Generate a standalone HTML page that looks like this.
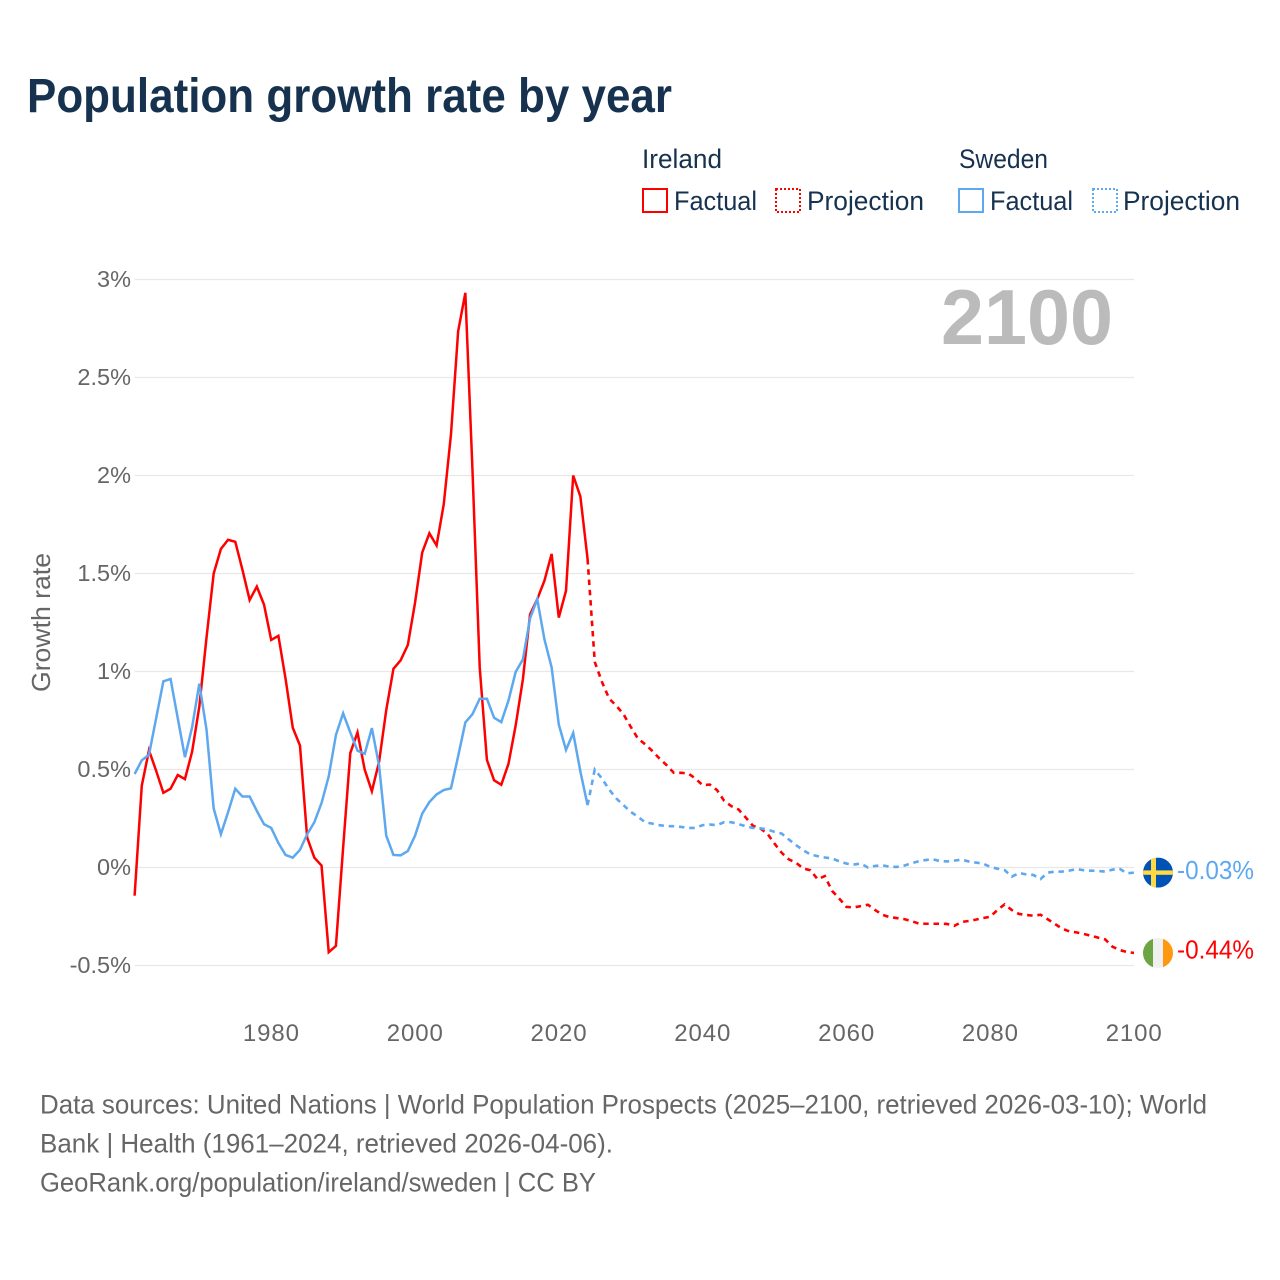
<!DOCTYPE html>
<html lang="en">
<head>
<meta charset="utf-8">
<title>Population growth rate by year</title>
<style>
html,body{margin:0;padding:0;background:#fff;width:1280px;height:1280px;overflow:hidden}
svg{display:block}
text{font-family:"Liberation Sans",sans-serif}
</style>
</head>
<body>
<svg id="chart" xmlns="http://www.w3.org/2000/svg" width="1280" height="1280" viewBox="0 0 1280 1280">
  <defs>
    <clipPath id="flag-clip-se"><circle id="clip-se" cx="1158" cy="873" r="15"/></clipPath>
    <clipPath id="flag-clip-ie"><circle id="clip-ie" cx="1158" cy="954" r="15"/></clipPath>
  </defs>
  <rect x="0" y="0" width="1280" height="1280" fill="#fff"/>
  <text x="27" y="112" font-size="48" font-weight="700" fill="#17324f" textLength="645" lengthAdjust="spacingAndGlyphs">Population growth rate by year</text>

  <g font-size="27" fill="#17324f">
    <text x="642" y="168" textLength="80" lengthAdjust="spacingAndGlyphs">Ireland</text>
    <text x="959" y="168" textLength="89" lengthAdjust="spacingAndGlyphs">Sweden</text>
    <rect x="643" y="189" width="24" height="23" fill="none" stroke="#ff0000" stroke-width="2"/>
    <text x="674" y="210" textLength="83" lengthAdjust="spacingAndGlyphs">Factual</text>
    <rect x="776" y="189" width="24" height="23" fill="none" stroke="#ff0000" stroke-width="2" stroke-dasharray="2 2"/>
    <text x="807" y="210" textLength="117" lengthAdjust="spacingAndGlyphs">Projection</text>
    <rect x="959" y="189" width="24" height="23" fill="none" stroke="#5da8ef" stroke-width="2"/>
    <text x="990" y="210" textLength="83" lengthAdjust="spacingAndGlyphs">Factual</text>
    <rect x="1093" y="189" width="24" height="23" fill="none" stroke="#5da8ef" stroke-width="2" stroke-dasharray="2 2"/>
    <text x="1123" y="210" textLength="117" lengthAdjust="spacingAndGlyphs">Projection</text>
  </g>

  <g id="grid"></g>
  <g id="y-ticks"></g>
  <g id="x-ticks"></g>
  <text transform="translate(50,692) rotate(-90)" font-size="26" fill="#666" textLength="139" lengthAdjust="spacingAndGlyphs">Growth rate</text>
  <text x="941" y="344" font-size="78" font-weight="700" fill="#bbbbbb" textLength="172" lengthAdjust="spacingAndGlyphs">2100</text>

  <g id="series"></g>

  <g id="flag-se" clip-path="url(#flag-clip-se)"></g>
  <g id="flag-ie" clip-path="url(#flag-clip-ie)"></g>
  <text id="label-se" x="1177" font-size="26" fill="#5da8ef" textLength="77" lengthAdjust="spacingAndGlyphs"></text>
  <text id="label-ie" x="1177" font-size="26" fill="#ff0000" textLength="77" lengthAdjust="spacingAndGlyphs"></text>

  <g font-size="27" fill="#666">
    <text x="40" y="1113.5" textLength="1167" lengthAdjust="spacingAndGlyphs">Data sources: United Nations | World Population Prospects (2025–2100, retrieved 2026-03-10); World</text>
    <text x="40" y="1152.5" textLength="573" lengthAdjust="spacingAndGlyphs">Bank | Health (1961–2024, retrieved 2026-04-06).</text>
    <text x="40" y="1191.5" textLength="556" lengthAdjust="spacingAndGlyphs">GeoRank.org/population/ireland/sweden | CC BY</text>
  </g>
</svg>
<script>
const yTickValues = [-0.5, 0, 0.5, 1, 1.5, 2, 2.5, 3];
const yTickLabels = ["-0.5%", "0%", "0.5%", "1%", "1.5%", "2%", "2.5%", "3%"];
const xTickValues = [1980, 2000, 2020, 2040, 2060, 2080, 2100];
const xTickLabels = ["1980", "2000", "2020", "2040", "2060", "2080", "2100"];

const factualYears = [1961,1962,1963,1964,1965,1966,1967,1968,1969,1970,1971,1972,1973,1974,1975,1976,1977,1978,1979,1980,1981,1982,1983,1984,1985,1986,1987,1988,1989,1990,1991,1992,1993,1994,1995,1996,1997,1998,1999,2000,2001,2002,2003,2004,2005,2006,2007,2008,2009,2010,2011,2012,2013,2014,2015,2016,2017,2018,2019,2020,2021,2022,2023,2024];
const irelandFactual = [-0.144,0.418,0.598,0.493,0.381,0.402,0.472,0.451,0.591,0.821,1.172,1.5,1.625,1.672,1.662,1.519,1.365,1.433,1.341,1.161,1.182,0.962,0.713,0.622,0.153,0.05,0.01,-0.432,-0.4,0.1,0.584,0.689,0.5,0.389,0.539,0.803,1.014,1.057,1.135,1.35,1.607,1.705,1.643,1.854,2.209,2.736,2.932,2.02,1.02,0.549,0.445,0.422,0.529,0.725,0.959,1.291,1.369,1.463,1.6,1.275,1.412,2.0,1.893,1.574];
const swedenFactual = [0.477,0.547,0.575,0.762,0.95,0.962,0.762,0.563,0.716,0.938,0.704,0.301,0.17,0.282,0.402,0.362,0.362,0.289,0.221,0.202,0.125,0.064,0.05,0.09,0.17,0.231,0.329,0.465,0.676,0.787,0.689,0.596,0.58,0.711,0.52,0.162,0.064,0.062,0.084,0.162,0.275,0.334,0.373,0.395,0.404,0.568,0.74,0.783,0.861,0.861,0.764,0.742,0.852,0.998,1.061,1.271,1.369,1.164,1.021,0.729,0.6,0.686,0.49,0.318];

const projectionYears = [2024,2025,2026,2027,2028,2029,2030,2031,2032,2033,2034,2035,2036,2037,2038,2039,2040,2041,2042,2043,2044,2045,2046,2047,2048,2049,2050,2051,2052,2053,2054,2055,2056,2057,2058,2059,2060,2061,2062,2063,2064,2065,2066,2067,2068,2069,2070,2071,2072,2073,2074,2075,2076,2077,2078,2079,2080,2081,2082,2083,2084,2085,2086,2087,2088,2089,2090,2091,2092,2093,2094,2095,2096,2097,2098,2099,2100];
const irelandProjection = [1.574,1.049,0.947,0.862,0.825,0.782,0.718,0.658,0.629,0.595,0.556,0.522,0.483,0.483,0.48,0.454,0.42,0.423,0.395,0.34,0.313,0.296,0.255,0.213,0.2,0.173,0.122,0.075,0.041,0.024,-0.005,-0.014,-0.06,-0.044,-0.119,-0.158,-0.201,-0.204,-0.197,-0.19,-0.217,-0.241,-0.253,-0.258,-0.263,-0.273,-0.285,-0.287,-0.287,-0.287,-0.288,-0.298,-0.278,-0.273,-0.266,-0.258,-0.251,-0.217,-0.188,-0.217,-0.237,-0.242,-0.246,-0.241,-0.264,-0.288,-0.312,-0.326,-0.331,-0.339,-0.348,-0.358,-0.367,-0.404,-0.421,-0.431,-0.436];
const swedenProjection = [0.318,0.5,0.454,0.398,0.352,0.318,0.284,0.259,0.231,0.224,0.216,0.211,0.211,0.207,0.202,0.202,0.216,0.219,0.216,0.231,0.231,0.221,0.211,0.202,0.2,0.194,0.182,0.173,0.143,0.114,0.088,0.066,0.058,0.051,0.046,0.032,0.02,0.015,0.02,0,0.008,0.011,0.004,0.003,0.009,0.021,0.031,0.038,0.042,0.033,0.031,0.035,0.04,0.031,0.025,0.02,0.003,-0.006,-0.013,-0.047,-0.028,-0.035,-0.038,-0.059,-0.026,-0.021,-0.021,-0.016,-0.008,-0.014,-0.016,-0.018,-0.021,-0.011,-0.006,-0.03,-0.026];

const endLabelIreland = "-0.44%";
const endLabelSweden = "-0.03%";

const NS = "http://www.w3.org/2000/svg";
function xScale(year) { return 134.6 + (year - 1961) * (1134 - 134.6) / (2100 - 1961); }
function yScale(value) { return 867.5 - value * 196; }
function pathFrom(years, values) {
  return years.map(function (year, i) {
    return (i ? "L" : "M") + xScale(year).toFixed(2) + " " + yScale(values[i]).toFixed(2);
  }).join(" ");
}
function makeLine(d, color, dash, width) {
  const el = document.createElementNS(NS, "path");
  el.setAttribute("d", d);
  el.setAttribute("fill", "none");
  el.setAttribute("stroke", color);
  el.setAttribute("stroke-width", width);
  el.setAttribute("stroke-linejoin", "miter");
  if (dash) el.setAttribute("stroke-dasharray", dash);
  document.getElementById("series").appendChild(el);
  return el;
}

yTickValues.forEach(function (value, i) {
  const line = document.createElementNS(NS, "line");
  
  
  line.setAttribute("x1", xScale(1961));
  line.setAttribute("x2", xScale(2100));
  line.setAttribute("y1", yScale(value));
  line.setAttribute("y2", yScale(value));
  line.setAttribute("stroke", "#e8e8e8");
  line.setAttribute("stroke-width", "1.2");
  document.getElementById("grid").appendChild(line);

  const label = document.createElementNS(NS, "text");
  
  
  label.setAttribute("x", 131);
  label.setAttribute("y", yScale(value) + 7.5);
  label.setAttribute("text-anchor", "end");
  label.setAttribute("font-size", "23.5");
  label.setAttribute("fill", "#666");
  label.textContent = yTickLabels[i];
  document.getElementById("y-ticks").appendChild(label);
});

xTickValues.forEach(function (year, i) {
  const label = document.createElementNS(NS, "text");
  
  
  label.setAttribute("x", xScale(year) + 0.2);
  label.setAttribute("y", 1041);
  label.setAttribute("text-anchor", "middle");
  label.setAttribute("font-size", "24");
  label.setAttribute("letter-spacing", "0.9");
  label.setAttribute("fill", "#666");
  label.textContent = xTickLabels[i];
  document.getElementById("x-ticks").appendChild(label);
});

const irelandFactualLine = makeLine(pathFrom(factualYears, irelandFactual), "#ff0000", null, 2.5);



const swedenFactualLine = makeLine(pathFrom(factualYears, swedenFactual), "#5da8ef", null, 2.5);



const irelandProjectionLine = makeLine(pathFrom(projectionYears, irelandProjection), "#ff0000", "5.5 4.8", 2.6);



const swedenProjectionLine = makeLine(pathFrom(projectionYears, swedenProjection), "#5da8ef", "5.5 4.8", 2.6);



const swedenEndY = yScale(swedenProjection[swedenProjection.length - 1]);
const irelandEndY = yScale(irelandProjection[irelandProjection.length - 1]);
document.getElementById("clip-se").setAttribute("cy", swedenEndY);
document.getElementById("clip-ie").setAttribute("cy", irelandEndY);

function flagRect(parentId, x, y, w, h, color) {
  const r = document.createElementNS(NS, "rect");
  r.setAttribute("x", x);
  r.setAttribute("y", y);
  r.setAttribute("width", w);
  r.setAttribute("height", h);
  r.setAttribute("fill", color);
  document.getElementById(parentId).appendChild(r);
  return r;
}
const seField = flagRect("flag-se", 1143, swedenEndY - 15, 30, 30, "#0052b4");


const seVertical = flagRect("flag-se", 1151, swedenEndY - 15, 5, 30, "#ffda44");


const seHorizontal = flagRect("flag-se", 1143, swedenEndY - 2.2, 30, 4.4, "#ffda44");



const ieGreen = flagRect("flag-ie", 1143, irelandEndY - 15, 10, 30, "#6da544");


const ieWhite = flagRect("flag-ie", 1153, irelandEndY - 15, 10, 30, "#f0f0f0");


const ieOrange = flagRect("flag-ie", 1163, irelandEndY - 15, 10, 30, "#ff9811");



const labelSe = document.getElementById("label-se");
labelSe.setAttribute("y", swedenEndY + 6.5);
labelSe.textContent = endLabelSweden;
const labelIe = document.getElementById("label-ie");
labelIe.setAttribute("y", irelandEndY + 5.5);
labelIe.textContent = endLabelIreland;
</script>
</body>
</html>
